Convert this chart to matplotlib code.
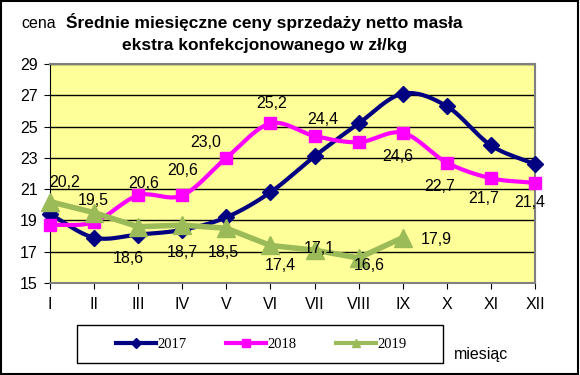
import numpy as np
import matplotlib
matplotlib.use('Agg')
from matplotlib import pyplot as plt
from matplotlib.patches import Rectangle
from matplotlib.lines import Line2D

months = ['I', 'II', 'III', 'IV', 'V', 'VI', 'VII', 'VIII', 'IX', 'X', 'XI', 'XII']
v2017 = [19.4, 17.9, 18.1, 18.4, 19.2, 20.8, 23.1, 25.2, 27.1, 26.3, 23.8, 22.6]
v2018 = [18.7, 18.9, 20.6, 20.6, 23.0, 25.2, 24.4, 24.0, 24.6, 22.7, 21.7, 21.4]
v2019 = [20.2, 19.5, 18.6, 18.7, 18.5, 17.4, 17.1, 16.6, 17.9]

# which points get a value label, and where (offset in pixels from the point)
lab2018 = {2: (6, 12), 3: (0, 25), 4: (-21, 15), 5: (1, 20), 6: (8, 16),
           8: (-5, -24), 9: (-7, -24), 10: (-7, -20), 11: (-5, -20)}
lab2019 = {0: (15, 19), 1: (-1, 12), 2: (-10, -32), 3: (0, -27), 4: (-3, -24),
           5: (10, -20), 6: (5, 2), 7: (11, -8), 8: (34, -2)}

NAVY = '#000080'
MAG = '#FF00FF'
GREEN = '#9BBB59'
FS = 11.5


def smooth(y, n=20):
    # Catmull-Rom path through the points, like Excel's smoothed line
    y = np.asarray(y, float)
    x = np.arange(len(y), dtype=float)
    px = np.concatenate([[2 * x[0] - x[1]], x, [2 * x[-1] - x[-2]]])
    py = np.concatenate([[2 * y[0] - y[1]], y, [2 * y[-1] - y[-2]]])
    xs, ys = [], []
    t = np.linspace(0, 1, n, endpoint=False)
    for i in range(1, len(px) - 2):
        for arr, out in ((px, xs), (py, ys)):
            p0, p1, p2, p3 = arr[i - 1], arr[i], arr[i + 1], arr[i + 2]
            out.extend(0.5 * (2 * p1 + (-p0 + p2) * t + (2 * p0 - 5 * p1 + 4 * p2 - p3) * t ** 2
                              + (-p0 + 3 * p1 - 3 * p2 + p3) * t ** 3))
    xs.append(x[-1]); ys.append(y[-1])
    return np.array(xs), np.array(ys)


plt.rcParams['font.family'] = ['Liberation Sans', 'DejaVu Sans']
fig = plt.figure(figsize=(5.8, 3.75), dpi=100)
fig.patch.set_facecolor('white')
fig.add_artist(Rectangle((0.002, 0.003), 0.994, 0.994, transform=fig.transFigure,
                         fill=False, edgecolor='black', linewidth=1.5))

ax = fig.add_axes([0.0862, 0.2453, 0.8362, 0.584])
ax.set_facecolor('#FFFF99')
ax.set_xlim(0, 11)
ax.set_ylim(15, 29)
ax.set_yticks(range(15, 30, 2))
ax.set_xticks(range(12))
ax.set_xticklabels(months)
ax.grid(axis='y', color='black', linewidth=1)
ax.set_axisbelow(True)
for s in ['top', 'right', 'bottom']:
    ax.spines[s].set_color('#808080')
    ax.spines[s].set_linewidth(1.5)
ax.spines['left'].set_color('black')
ax.tick_params(axis='both', labelsize=FS, length=4, direction='out', color='black')
ax.tick_params(axis='x', pad=6)
ax.tick_params(axis='y', pad=5)

x = np.arange(12)
sx, sy = smooth(v2017)
ax.plot(sx, sy, color=NAVY, lw=3, zorder=3, clip_on=False)
ax.plot(x, v2017, 'D', color=NAVY, ms=8, zorder=4, clip_on=False)
sx, sy = smooth(v2018)
ax.plot(sx, sy, color=MAG, lw=3, zorder=3, clip_on=False)
ax.plot(x, v2018, 's', color=MAG, ms=8, zorder=4, clip_on=False)
x9 = np.arange(len(v2019))
ax.plot(x9, v2019, color=GREEN, lw=4, marker='^', ms=13, zorder=5, clip_on=False)


def fmt(v):
    return f'{v:.1f}'.replace('.', ',')


for i, (dx, dy) in lab2018.items():
    ax.annotate(fmt(v2018[i]), (i, v2018[i]), xytext=(dx, dy), textcoords='offset pixels',
                ha='center', va='center', fontsize=FS, zorder=6)
for i, (dx, dy) in lab2019.items():
    ax.annotate(fmt(v2019[i]), (i, v2019[i]), xytext=(dx, dy), textcoords='offset pixels',
                ha='center', va='center', fontsize=FS, zorder=6)

fig.text(0.456, 0.925, 'Średnie miesięczne ceny sprzedaży netto masła', ha='center', va='baseline',
         fontsize=12.5, fontweight='bold')
fig.text(0.456, 0.867, 'ekstra konfekcjonowanego w zł/kg', ha='center', va='baseline',
         fontsize=12.5, fontweight='bold')
fig.text(0.067, 0.925, 'cena', ha='center', va='baseline', fontsize=FS)
fig.text(0.829, 0.043, 'miesiąc', ha='center', va='baseline', fontsize=FS)

# legend box
fig.add_artist(Rectangle((0.133, 0.032), 0.631, 0.101, transform=fig.transFigure,
                         fill=False, edgecolor='black', linewidth=1))
handles = [Line2D([], [], color=NAVY, lw=3, marker='D', ms=5),
           Line2D([], [], color=MAG, lw=3, marker='s', ms=6),
           Line2D([], [], color=GREEN, lw=3, marker='^', ms=6)]
fig.legend(handles, ['2017', '2018', '2019'], loc='center', bbox_to_anchor=(0.451, 0.0825),
           ncol=3, frameon=False, handlelength=2.75, handletextpad=0.1, columnspacing=2.7,
           prop={'family': 'Liberation Serif', 'size': 10.5})

fig.savefig('out.png', dpi=100)
